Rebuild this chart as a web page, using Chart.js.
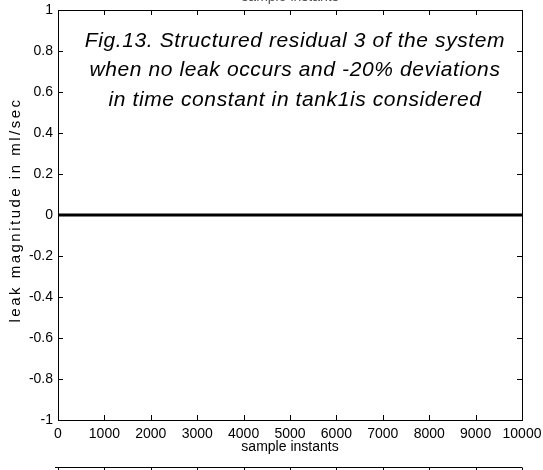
<!DOCTYPE html>
<html>
<head>
<meta charset="utf-8">
<script src="https://cdn.jsdelivr.net/npm/chart.js@4.4.1/dist/chart.umd.min.js"></script>
<style>
  html, body { margin: 0; padding: 0; background: #ffffff; }
  #wrap { width: 543px; height: 470px; }
</style>
</head>
<body>
<div id="wrap"><canvas id="c" width="543" height="470"></canvas></div>
<script>
// Structured residual 3: sample instants and residual value (ml/sec)
const sampleInstants = [0, 1000, 2000, 3000, 4000, 5000, 6000, 7000, 8000, 9000, 10000];
const residual3 = [0, 0, 0, 0, 0, 0, 0, 0, 0, 0, 0];

// Axis ranges and tick steps
const xRange = [0, 10000];
const xStep = 1000;
const yRange = [-1, 1];
const yStep = 0.2;

const xTitle = 'sample instants';
const yTitle = 'leak magnitude in ml/sec';
const noteLines = [
  'Fig.13. Structured residual 3 of the system',
  'when no leak occurs and -20% deviations',
  'in time constant in tank1is considered'
];

const FONT = '"Liberation Sans", Arial, Helvetica, sans-serif';

// Box around the plot with inward tick marks on all four sides
const boxPlugin = {
  id: 'box',
  afterDatasetsDraw(chart) {
    const { ctx, chartArea: a, scales } = chart;
    const xs = scales.x, ys = scales.y;
    const tl = 5;
    ctx.save();
    ctx.strokeStyle = '#000';
    ctx.lineWidth = 1;
    ctx.beginPath();
    xs.ticks.forEach(t => {
      const px = Math.round(xs.getPixelForValue(t.value)) + 0.5;
      ctx.moveTo(px, a.bottom); ctx.lineTo(px, a.bottom - tl);
      ctx.moveTo(px, a.top); ctx.lineTo(px, a.top + tl);
    });
    ys.ticks.forEach(t => {
      const py = Math.round(ys.getPixelForValue(t.value)) + 0.5;
      ctx.moveTo(a.left, py); ctx.lineTo(a.left + tl, py);
      ctx.moveTo(a.right, py); ctx.lineTo(a.right - tl, py);
    });
    ctx.stroke();
    ctx.strokeRect(Math.round(a.left) + 0.5, Math.round(a.top) + 0.5,
                   Math.round(a.right - a.left), Math.round(a.bottom - a.top));
    ctx.restore();
  }
};

// Caption, spaced y-axis title, and the edges of the neighbouring subplots
const notePlugin = {
  id: 'note',
  afterDraw(chart) {
    const { ctx, chartArea: a, scales } = chart;
    const xs = scales.x;
    ctx.save();
    ctx.fillStyle = '#000';
    ctx.textAlign = 'center';
    ctx.textBaseline = 'middle';
    ctx.font = 'italic 21px ' + FONT;
    ctx.letterSpacing = '0.6px';
    const cx = (a.left + a.right) / 2 + 5;
    noteLines.forEach((s, i) => ctx.fillText(s, cx, a.top + 31 + i * 29.5));
    ctx.restore();

    // y-axis title, rotated
    ctx.save();
    ctx.fillStyle = '#000';
    ctx.font = '15px ' + FONT;
    ctx.letterSpacing = '2.5px';
    ctx.textAlign = 'center';
    ctx.textBaseline = 'middle';
    ctx.translate(16, (a.top + a.bottom) / 2 - 5);
    ctx.rotate(-Math.PI / 2);
    ctx.fillText(yTitle, 0, 0);
    ctx.restore();

    // x-axis title of the subplot above, clipped by the top edge
    ctx.save();
    ctx.font = '14px ' + FONT;
    ctx.textAlign = 'center';
    ctx.textBaseline = 'alphabetic';
    ctx.fillStyle = '#555';
    ctx.fillText(xTitle, (a.left + a.right) / 2, 1);

    // top border of the subplot below
    const yb = chart.height - 2.5;
    ctx.strokeStyle = '#000';
    ctx.lineWidth = 1;
    ctx.beginPath();
    ctx.moveTo(a.left - 3, yb); ctx.lineTo(a.right, yb);
    xs.ticks.forEach(t => {
      const px = Math.round(xs.getPixelForValue(t.value)) + 0.5;
      ctx.moveTo(px, yb); ctx.lineTo(px, yb + 5);
    });
    ctx.stroke();
    ctx.restore();
  }
};

new Chart(document.getElementById('c'), {
  type: 'line',
  data: {
    datasets: [{
      data: sampleInstants.map((x, i) => ({ x, y: residual3[i] })),
      borderColor: '#000',
      borderWidth: 3,
      pointRadius: 0,
      fill: false,
      tension: 0
    }]
  },
  options: {
    responsive: false,
    devicePixelRatio: 1,
    animation: false,
    layout: { padding: { top: 10, right: 21, left: 0, bottom: 0 } },
    plugins: { legend: { display: false }, tooltip: { enabled: false } },
    scales: {
      x: {
        type: 'linear',
        min: xRange[0], max: xRange[1],
        border: { display: false },
        grid: { display: false, drawTicks: false },
        ticks: {
          stepSize: xStep, color: '#000', padding: 6, maxRotation: 0,
          font: { family: FONT, size: 14 },
          callback: v => String(v)
        },
        title: {
          display: true, text: xTitle, color: '#000',
          font: { family: FONT, size: 14 }, padding: { top: 0, bottom: 14 }
        },
        afterFit(s) { s.height = 50; s.paddingLeft = 0; s.paddingRight = 0; }
      },
      y: {
        type: 'linear',
        min: yRange[0], max: yRange[1],
        border: { display: false },
        grid: { display: false, drawTicks: false },
        ticks: {
          stepSize: yStep, color: '#000', padding: 5,
          font: { family: FONT, size: 14 },
          callback: v => String(Number(v.toFixed(1)))
        },
        title: { display: false },
        afterFit(s) { s.width = 58; s.paddingTop = 0; s.paddingBottom = 0; }
      }
    }
  },
  plugins: [boxPlugin, notePlugin]
});
</script>
</body>
</html>
